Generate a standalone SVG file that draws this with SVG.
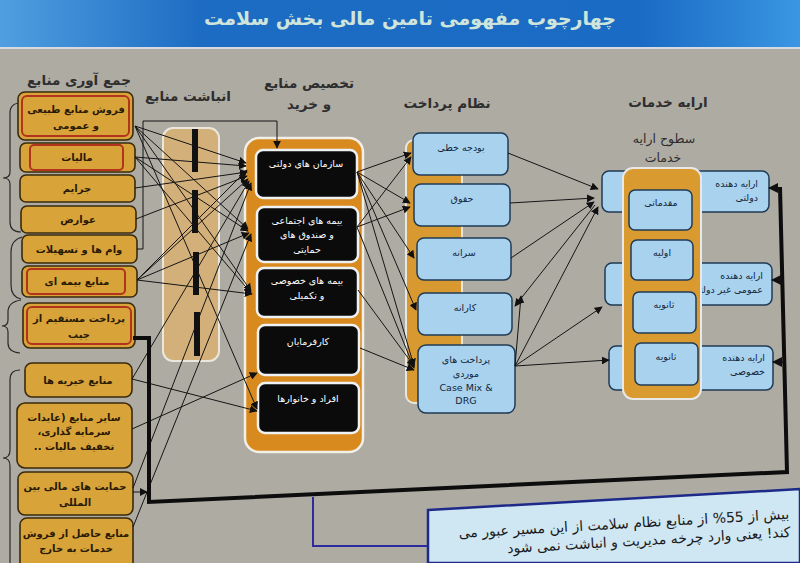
<svg xmlns="http://www.w3.org/2000/svg" width="800" height="563" viewBox="0 0 800 563">
<defs>
<linearGradient id="ban" x1="0" y1="0" x2="1" y2="0">
<stop offset="0" stop-color="#4f9fe0"/>
<stop offset="0.25" stop-color="#1d6cc3"/>
<stop offset="0.8" stop-color="#1a6bc4"/>
<stop offset="1" stop-color="#3a96e2"/>
</linearGradient>
<marker id="ah" viewBox="0 0 10 10" refX="9" refY="5" markerWidth="8" markerHeight="8" markerUnits="userSpaceOnUse" orient="auto">
<path d="M0,0 L10,5 L0,10 z" fill="#111"/>
</marker>
<marker id="ahb" viewBox="0 0 10 10" refX="9" refY="5" markerWidth="10" markerHeight="10" markerUnits="userSpaceOnUse" orient="auto">
<path d="M0,0 L10,5 L0,10 z" fill="#111"/>
</marker>
</defs>
<style>
.gold{fill:#d8a43a;stroke:#3a2a0c;stroke-width:1.6}
.red{fill:none;stroke:#b2341c;stroke-width:2}
.blk{fill:#0b0b0b;stroke:#eef2f4;stroke-width:2.5}
.blu{fill:#a8d2ee;stroke:#1f3b55;stroke-width:1.5}
.ln{stroke:#151515;stroke-width:1;fill:none;marker-end:url(#ah)}
.t{font-family:'DejaVu Sans',sans-serif;text-anchor:middle}
.tg{font-size:10px;font-weight:bold;fill:#2a1a04}
.tw{font-size:9.5px;fill:#ffffff}
.tb{font-size:9.5px;fill:#13263a}
.h{font-size:13.5px;font-weight:bold;fill:#2e2e2e}
.br{fill:none;stroke:#2a2a2a;stroke-width:1.2}
.nt{font-family:'DejaVu Sans',sans-serif;font-size:14px;fill:#1a1a1a;text-anchor:middle}
</style>

<rect x="0" y="0" width="800" height="563" fill="#aeaba3"/>
<rect x="0" y="0" width="800" height="47" fill="url(#ban)"/>
<rect x="0" y="47" width="800" height="2" fill="#d5dbe0"/>
<text class="t" x="410" y="25" style="font-size:19px;font-weight:bold;fill:#cfe5dc" direction="rtl">چهارچوب مفهومی تامین مالی بخش سلامت</text>

<g id="headings">
<text class="t h" x="79" y="85" direction="rtl">جمع آوری منابع</text>
<text class="t h" x="188" y="101" direction="rtl">انباشت منابع</text>
<text class="t h" x="309" y="88" direction="rtl">تخصیص منابع</text>
<text class="t h" x="309" y="109" direction="rtl">و خرید</text>
<text class="t h" x="447" y="108" direction="rtl">نظام پرداخت</text>
<text class="t h" x="668" y="107" direction="rtl">ارایه خدمات</text>
<text class="t" x="664" y="143" style="font-size:12.5px;fill:#2e2e2e" direction="rtl">سطوح ارایه</text>
<text class="t" x="663" y="162" style="font-size:12.5px;fill:#2e2e2e" direction="rtl">خدمات</text>
</g>

<g id="braces">
<path class="br" d="M21 103 Q10 103 10 113 V172 Q10 178 3 178 Q10 178 10 184 V222 Q10 232 21 232"/>
<path class="br" d="M22 237 Q11 240 11 252 V285 Q11 297 21 299"/>
<path class="br" d="M21 300 Q8 302 8 312 V320 Q8 326 2 326 Q8 326 8 332 V343 Q8 352 20 353"/>
<path class="br" d="M20 370 Q10 370 10 380 V450 Q10 458 3 458 Q10 458 10 466 V563"/>
</g>

<g id="src-1"><rect class="gold" x="18" y="92" width="115" height="48" rx="7"/><rect class="red" x="22" y="96" width="107" height="40" rx="5"/>
<text class="t tg" x="76" y="113" direction="rtl">فروش منابع طبیعی</text><text class="t tg" x="76" y="129" direction="rtl">و عمومی</text></g>
<g id="src-2"><rect class="gold" x="20" y="143" width="115" height="29" rx="6"/><rect class="red" x="30" y="145" width="93" height="25" rx="4"/>
<text class="t tg" x="77" y="161" direction="rtl">مالیات</text></g>
<g id="src-3"><rect class="gold" x="20" y="175" width="115" height="27" rx="6"/><text class="t tg" x="77" y="192" direction="rtl">جرایم</text></g>
<g id="src-4"><rect class="gold" x="21" y="206" width="115" height="27" rx="6"/><text class="t tg" x="78" y="223" direction="rtl">عوارض</text></g>
<g id="src-5"><rect class="gold" x="22" y="235" width="115" height="28" rx="6"/><text class="t tg" x="79" y="253" direction="rtl">وام ها و تسهیلات</text></g>
<g id="src-6"><rect class="gold" x="22" y="266" width="115" height="31" rx="6"/><rect class="red" x="27" y="269" width="98" height="25" rx="4"/>
<text class="t tg" x="77" y="285" direction="rtl">منابع بیمه ای</text></g>
<g id="src-7"><rect class="gold" x="23" y="303" width="112" height="45" rx="7"/><rect class="red" x="27" y="307" width="104" height="37" rx="5"/>
<text class="t tg" x="79" y="322" direction="rtl">پرداخت مستقیم از</text><text class="t tg" x="79" y="338" direction="rtl">جیب</text></g>
<g id="src-8"><rect class="gold" x="25" y="363" width="107" height="34" rx="7"/><text class="t tg" x="78" y="384" direction="rtl">منابع خیریه ها</text></g>
<g id="src-9"><rect class="gold" x="17" y="403" width="115" height="65" rx="8"/>
<text class="t tg" x="74" y="421" direction="rtl">سایر منابع (عایدات</text><text class="t tg" x="74" y="435" direction="rtl">سرمایه گذاری،</text><text class="t tg" x="74" y="450" direction="rtl">تخفیف مالیات ..</text></g>
<g id="src-10"><rect class="gold" x="18" y="472" width="115" height="43" rx="7"/>
<text class="t tg" x="75" y="490" direction="rtl">حمایت های مالی بین</text><text class="t tg" x="75" y="506" direction="rtl">المللی</text></g>
<g id="src-11"><rect class="gold" x="20" y="518" width="113" height="52" rx="7"/>
<text class="t tg" x="76" y="537" direction="rtl">منابع حاصل از فروش</text><text class="t tg" x="76" y="552" direction="rtl">خدمات به خارج</text></g>

<g id="pooling">
<rect x="163" y="128" width="56" height="233" rx="10" fill="#d3b07a" stroke="#ebe7dd" stroke-width="2"/>
<rect x="192" y="129" width="6" height="43" fill="#111"/>
<rect x="192" y="190" width="6" height="43" fill="#111"/>
<rect x="193" y="252" width="6" height="43" fill="#111"/>
<rect x="194" y="312" width="6" height="44" fill="#111"/>
</g>

<g id="purchasing">
<rect x="245" y="138" width="118" height="314" rx="14" fill="#d98a1f" stroke="#f2efe8" stroke-width="2.5"/>
</g>
<g id="alloc-1"><rect class="blk" x="256" y="150" width="101" height="48" rx="7"/><text class="t tw" x="306" y="167" direction="rtl">سازمان های دولتی</text></g>
<g id="alloc-2"><rect class="blk" x="257" y="207" width="101" height="55" rx="7"/>
<text class="t tw" x="307" y="224" direction="rtl">بیمه های اجتماعی</text><text class="t tw" x="307" y="238" direction="rtl">و صندوق های</text><text class="t tw" x="307" y="253" direction="rtl">حمایتی</text></g>
<g id="alloc-3"><rect class="blk" x="257" y="268" width="101" height="49" rx="7"/>
<text class="t tw" x="307" y="284" direction="rtl">بیمه های خصوصی</text><text class="t tw" x="307" y="299" direction="rtl">و تکمیلی</text></g>
<g id="alloc-4"><rect class="blk" x="258" y="325" width="101" height="50" rx="7"/><text class="t tw" x="308" y="345" direction="rtl">کارفرمایان</text></g>
<g id="alloc-5"><rect class="blk" x="258" y="383" width="101" height="50" rx="7"/><text class="t tw" x="308" y="402" direction="rtl">افراد و خانوارها</text></g>

<g id="payment">
<rect x="406" y="140" width="56" height="263" rx="8" fill="#d89a30" stroke="#e9e6df" stroke-width="2"/>
</g>
<g id="pay-1"><rect class="blu" x="413" y="133" width="95" height="42" rx="7"/><text class="t tb" x="461" y="151" direction="rtl">بودجه خطی</text></g>
<g id="pay-2"><rect class="blu" x="414" y="184" width="96" height="42" rx="7"/><text class="t tb" x="462" y="202" direction="rtl">حقوق</text></g>
<g id="pay-3"><rect class="blu" x="417" y="238" width="94" height="42" rx="7"/><text class="t tb" x="464" y="256" direction="rtl">سرانه</text></g>
<g id="pay-4"><rect class="blu" x="418" y="293" width="94" height="42" rx="7"/><text class="t tb" x="465" y="311" direction="rtl">کارانه</text></g>
<g id="pay-5"><rect class="blu" x="418" y="345" width="97" height="68" rx="8"/>
<text class="t tb" x="466" y="363" direction="rtl">پرداخت های</text><text class="t tb" x="466" y="377" direction="rtl">موردی</text>
<text class="t tb" x="466" y="391">Case Mix &amp;</text><text class="t tb" x="466" y="404">DRG</text></g>

<g id="prov-gov"><rect class="blu" x="602" y="171" width="167" height="41" rx="7"/>
<text class="t tb" x="758" y="187" style="text-anchor:end">ارایه دهنده</text><text class="t tb" x="758" y="201" style="text-anchor:end">دولتی</text></g>
<g id="prov-pub"><rect class="blu" x="605" y="263" width="167" height="42" rx="7"/>
<text class="t tb" x="763" y="279" style="text-anchor:end">ارایه دهنده</text><text class="t tb" x="763" y="293" style="text-anchor:end">عمومی غیر دولتی</text></g>
<g id="prov-pri"><rect class="blu" x="609" y="346" width="164" height="44" rx="7"/>
<text class="t tb" x="765" y="361" style="text-anchor:end">ارایه دهنده</text><text class="t tb" x="765" y="375" style="text-anchor:end">خصوصی</text></g>

<g id="levels">
<rect x="623" y="168" width="78" height="231" rx="10" fill="#d99a30" stroke="#e8e8e8" stroke-width="2"/>
</g>
<g id="lvl-1"><rect class="blu" x="629" y="190" width="63" height="40" rx="6"/><text class="t tb" x="661" y="206" direction="rtl">مقدماتی</text></g>
<g id="lvl-2"><rect class="blu" x="631" y="240" width="62" height="40" rx="6"/><text class="t tb" x="662" y="256" direction="rtl">اولیه</text></g>
<g id="lvl-3"><rect class="blu" x="633" y="292" width="63" height="41" rx="6"/><text class="t tb" x="664" y="308" direction="rtl">ثانویه</text></g>
<g id="lvl-4"><rect class="blu" x="635" y="343" width="63" height="42" rx="6"/><text class="t tb" x="666" y="360" direction="rtl">ثانویه</text></g>

<g id="connectors">
<path class="ln" d="M135 126 L246 163"/>
<path class="ln" d="M135 126 L248 229"/>
<path class="ln" d="M135 126 L251 291"/>
<path class="ln" d="M135 126 L257 409"/>
<path class="ln" d="M135 157 L246 166"/>
<path class="ln" d="M135 157 L248 231"/>
<path class="ln" d="M135 157 L251 293"/>
<path class="ln" d="M135 188 L247 172"/>
<path class="ln" d="M136 219 L247 176"/>
<path class="ln" d="M137 280 L247 170"/>
<path class="ln" d="M137 280 L248 179"/>
<path class="ln" d="M137 280 L249 233"/>
<path class="ln" d="M137 280 L252 294"/>
<path class="ln" d="M132 379 L249 181"/>
<path class="ln" d="M132 379 L257 411"/>
<path class="ln" d="M132 429 L257 373"/>
<path class="ln" d="M133 488 L251 183"/>
<path class="ln" d="M133 527 L251 234"/>
<path class="ln" d="M133 492 L147 492"/>
<path class="ln" d="M137 249 H143 V121 H277 V148"/>

<path class="ln" d="M357 172 L411 153"/>
<path class="ln" d="M357 172 L410 203"/>
<path class="ln" d="M357 172 L414 258"/>
<path class="ln" d="M357 172 L416 310"/>
<path class="ln" d="M357 172 L414 366"/>
<path class="ln" d="M357 227 L411 157"/>
<path class="ln" d="M357 227 L410 207"/>
<path class="ln" d="M357 227 L414 368"/>
<path class="ln" d="M358 290 L414 366"/>
<path class="ln" d="M360 348 L414 370"/>

<path class="ln" d="M508 153 L598 189"/>
<path class="ln" d="M510 203 L594 198"/>
<path class="ln" d="M511 258 L594 202"/>
<path class="ln" d="M595 205 L515 306"/>
<path class="ln" d="M515 366 L521 296"/>
<path class="ln" d="M515 366 L598 207"/>
<path class="ln" d="M515 366 L602 307"/>
<path class="ln" d="M515 366 L609 360"/>

<path d="M133 338 H149 V502 L787 472 L780 187" fill="none" stroke="#0d0d0d" stroke-width="4"/>
<path d="M780 188 L769 188" stroke="#111" stroke-width="1.5" marker-end="url(#ahb)"/>
<path d="M784 280 L772 280" stroke="#111" stroke-width="1.5" marker-end="url(#ahb)"/>
<path d="M786 362 L773 362" stroke="#111" stroke-width="1.5" marker-end="url(#ahb)"/>

<path d="M313 497 V546 H428" fill="none" stroke="#2c2ca0" stroke-width="2"/>
</g>

<g id="note">
<polygon points="428,510 800,489 800,563 428,563" fill="#cfe6f3" stroke="#1e2a8a" stroke-width="2.5"/>
<g transform="rotate(-3.3 630 525)">
<text class="nt" x="624" y="528" direction="rtl">بیش از 55% از منابع نظام سلامت از این مسیر عبور می</text>
<text class="nt" x="648" y="546" direction="rtl">کند! یعنی وارد چرخه مدیریت و انباشت نمی شود</text>
</g>
</g>
</svg>
